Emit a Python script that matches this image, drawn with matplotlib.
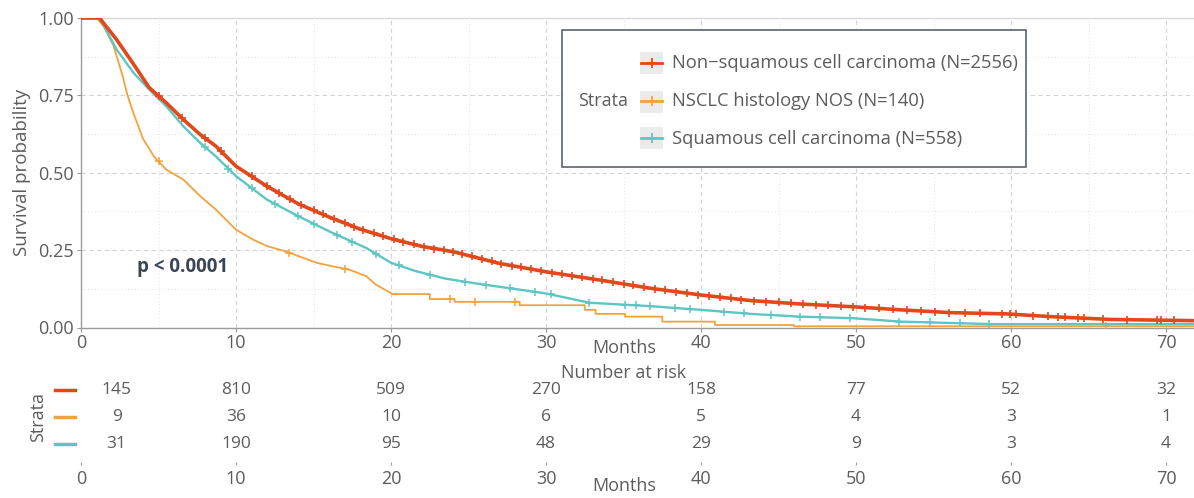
import numpy as np
import matplotlib
matplotlib.use("Agg")
import matplotlib.pyplot as plt
from matplotlib.patches import Rectangle
from matplotlib.lines import Line2D
from matplotlib.transforms import blended_transform_factory

plt.rcParams['font.family'] = ['Open Sans', 'DejaVu Sans']

# Kaplan-Meier estimates per stratum (months, survival probability)
nonsq_t = [0, 1.2, 2.3, 3.4, 4.4, 5.5, 6.6, 7.7, 8.7, 10, 12, 14, 16, 18, 20, 22, 24, 27,
           30, 33.5, 36.7, 40, 43.2, 46.4, 49.8, 52.9, 56.1, 59.7, 62.6, 66.4, 72]
nonsq_s = [1.0, 1.0, 0.93, 0.85, 0.775, 0.726, 0.672, 0.623, 0.586, 0.521, 0.456, 0.40, 0.357,
           0.318, 0.287, 0.262, 0.245, 0.207, 0.18, 0.153, 0.127, 0.105, 0.087, 0.076, 0.067,
           0.057, 0.048, 0.044, 0.035, 0.026, 0.022]

# NOS curve: fine drops early, then plain steps once few patients remain
nos_t = [0, 1.0, 1.5, 2.1, 2.7, 3.0, 3.4, 4.0, 4.7, 5.5, 6.6, 7.7, 8.7, 10, 11.1, 12, 13.2,
         15.2, 16.2, 17.3, 18.4, 19, 19.5, 20.1,
         22.5, 22.5, 24.1, 24.1, 28.3, 28.3, 32.5, 32.5, 33.2, 33.2, 35.1, 35.1, 37.5, 37.5,
         40.9, 40.9, 46.0, 46.0, 72]
nos_s = [1.0, 1.0, 0.97, 0.91, 0.81, 0.75, 0.69, 0.61, 0.553, 0.51, 0.478, 0.424, 0.381, 0.316,
         0.284, 0.263, 0.246, 0.209, 0.198, 0.187, 0.166, 0.139, 0.125, 0.108,
         0.108, 0.092, 0.092, 0.083, 0.083, 0.072, 0.072, 0.057, 0.057, 0.044, 0.044, 0.035,
         0.035, 0.019, 0.019, 0.008, 0.008, 0.004, 0.004]

sq_t = [0, 1.2, 2.3, 3.4, 4.4, 5.5, 6.6, 7.7, 8.7, 10, 12, 14, 16.2, 18.4, 20, 21.6, 23.5,
        25.4, 30, 32.8, 36.7, 40, 43.2, 46.4, 49.8, 52.9, 58.7, 72]
sq_s = [1.0, 1.0, 0.898, 0.822, 0.769, 0.715, 0.65, 0.596, 0.553, 0.489, 0.413, 0.36, 0.306,
        0.257, 0.209, 0.182, 0.158, 0.143, 0.11, 0.08, 0.069, 0.057, 0.044, 0.035, 0.03,
        0.019, 0.011, 0.011]

# censoring times
nonsq_cens = [5, 6.5, 8, 9, 11, 12, 12.8, 13.5, 14.2, 15, 15.6, 16.3, 17, 17.6, 18.2, 18.9,
              19.5, 20.2, 20.8, 21.5, 22.1, 22.8, 23.4, 24, 24.6, 25.2, 25.9, 26.5, 27.1, 27.8,
              28.4, 29, 29.7, 30.4, 31, 31.7, 32.3, 33, 33.6, 34.3, 35, 35.6, 36.3, 37, 37.7,
              38.4, 39.1, 39.8, 40.5, 41.2, 41.9, 42.6, 43.4, 44.2, 45, 45.8, 46.6, 47.4, 48.2,
              49, 49.8, 50.6, 51.5, 52.4, 53.3, 54.2, 55.1, 56, 57, 58, 59.4, 59.9, 60.3, 61.4,
              62.4, 63.0, 63.5, 64.3, 64.7, 65.9, 67.5, 69.4, 69.7, 70.5]
nos_cens = [5.0, 13.4, 17.0, 23.8, 25.4, 28.0, 66.1]
sq_cens = [8, 9.5, 11, 12.5, 14, 15, 16.5, 17.5, 19, 20.5, 22.5, 24.8, 26.1, 27.7, 29.3, 30.3,
           32.8, 35.1, 35.8, 36.7, 38.3, 39.3, 41.5, 42.8, 44.5, 46.4, 47.7, 49.6, 52.8, 54.8,
           56.7, 58.6]

labels = ['Non\u2212squamous cell carcinoma (N=2556)', 'NSCLC histology NOS (N=140)',
          'Squamous cell carcinoma (N=558)']
colors = ['#E2481C', '#F4A23C', '#5EC6C2']

# number at risk table
risk_months = [0, 10, 20, 30, 40, 50, 60, 70]
risk_nonsq = [145, 810, 509, 270, 158, 77, 52, 32]
risk_nos = [9, 36, 10, 6, 5, 4, 3, 1]
risk_sq = [31, 190, 95, 48, 29, 9, 3, 4]

W, H = 1194, 498
txt = '#5c5c5c'
gridc = '#d4d4d4'
fs = 13

fig = plt.figure(figsize=(W / 100, H / 100), dpi=100)


def fx(p):
    return p / W


def fy(p):
    return 1 - p / H


ax = fig.add_axes([fx(81), fy(327.5), 1 - fx(81), (327.5 - 18) / H])
ax.set_xlim(0, 71.8)
ax.set_ylim(0, 1.0)

# curves: orange first, red on top
ax.plot(nos_t, nos_s, color=colors[1], lw=1.3, zorder=3)
ax.plot(nos_cens, np.interp(nos_cens, nos_t, nos_s), ls='none', marker='+', ms=5.5, mew=1.1,
        color=colors[1], zorder=3)
ax.plot(sq_t, sq_s, color=colors[2], lw=1.7, zorder=4)
ax.plot(sq_cens, np.interp(sq_cens, sq_t, sq_s), ls='none', marker='+', ms=5.5, mew=1.1,
        color=colors[2], zorder=4)
ax.plot(nonsq_t, nonsq_s, color=colors[0], lw=2.6, zorder=5)
ax.plot(nonsq_cens, np.interp(nonsq_cens, nonsq_t, nonsq_s), ls='none', marker='+', ms=5.5,
        mew=1.2, color=colors[0], zorder=5)

ax.set_xticks(range(0, 71, 10))
ax.set_xticks(range(5, 71, 10), minor=True)
ax.set_yticks([0, 0.25, 0.5, 0.75, 1.0])
ax.set_yticks([0.125, 0.375, 0.625, 0.875], minor=True)
ax.set_yticklabels(['0.00', '0.25', '0.50', '0.75', '1.00'])
ax.grid(which='major', color=gridc, ls=(0, (4, 3)), lw=0.8)
ax.grid(which='minor', color='#e8e8e8', ls=(0, (1, 2)), lw=0.8)
ax.set_axisbelow(True)
ax.spines['right'].set_visible(False)
ax.spines['top'].set_color(gridc)
ax.spines['top'].set_linewidth(0.8)
for s in ['left', 'bottom']:
    ax.spines[s].set_color('#9c9c9c')
    ax.spines[s].set_linewidth(1.0)
ax.tick_params(which='major', length=3, color='#9c9c9c', labelsize=fs, labelcolor=txt, pad=2)
ax.tick_params(which='minor', length=0)
ax.set_ylabel('Survival probability', fontsize=13.5, color=txt, labelpad=5)

ax.text(3.6, 0.196, 'p < 0.0001', fontsize=13.5, fontweight='bold', color='#3a4656',
        ha='left', va='center')

fig.text(fx(624), fy(348), 'Months', fontsize=fs, color=txt, ha='center', va='center')
fig.text(fx(624), fy(373), 'Number at risk', fontsize=fs, color=txt, ha='center',
         va='center')

# legend box
fig.add_artist(Rectangle((fx(562), fy(167)), fx(1026 - 562), (167 - 30) / H,
                         transform=fig.transFigure, facecolor='white', edgecolor='#5b6472',
                         lw=1.2, zorder=10))
fig.text(fx(578), fy(101.5), 'Strata', fontsize=fs, color=txt, ha='left', va='center',
         zorder=11)
for lab, col, yp in zip(labels, colors, [63.5, 101.5, 138.5]):
    fig.add_artist(Rectangle((fx(640), fy(yp + 11)), fx(23), 22 / H, transform=fig.transFigure,
                             facecolor='#ebebeb', edgecolor='none', zorder=11))
    fig.add_artist(Line2D([fx(641), fx(662)], [fy(yp), fy(yp)], transform=fig.transFigure,
                          color=col, lw=2, zorder=12))
    fig.add_artist(Line2D([fx(651.5)], [fy(yp)], transform=fig.transFigure, color=col,
                          marker='+', ms=7, mew=1.3, zorder=12))
    fig.text(fx(672), fy(yp), lab, fontsize=13.2, color=txt, ha='left', va='center',
             zorder=12)

# number at risk table
rax = fig.add_axes([fx(81), fy(462), 1 - fx(81), (462 - 376.5) / H])
rax.set_xlim(0, 71.8)
rax.set_ylim(0.5 + (462 - 376.5) / 27, 0.5)
col_x = [t if t > 0 else 2.3 for t in risk_months]
for row, (vals, col) in enumerate(zip([risk_nonsq, risk_nos, risk_sq], colors), start=1):
    for x, v in zip(col_x, vals):
        rax.text(x, row, str(v), fontsize=12.5, color=txt, ha='center', va='center')
    rax.plot([-26 / 1113, -6 / 1113], [row, row], color=col, lw=2.5, clip_on=False,
             transform=blended_transform_factory(rax.transAxes, rax.transData))
for s in rax.spines.values():
    s.set_visible(False)
rax.set_yticks([])
rax.set_xticks(risk_months)
rax.tick_params(axis='x', length=2.5, color='#9c9c9c', labelsize=fs, labelcolor=txt, pad=3)
fig.text(fx(38), fy(417), 'Strata', fontsize=fs, color=txt, rotation=90, ha='center',
         va='center')
fig.text(fx(624), fy(486), 'Months', fontsize=fs, color=txt, ha='center', va='center')

fig.savefig('out.png', dpi=100)
